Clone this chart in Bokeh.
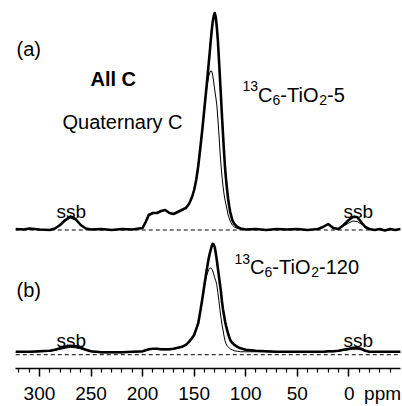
from bokeh.plotting import figure
from bokeh.models import Range1d, FixedTicker, Label
from bokeh.layouts import column
from bokeh.embed import file_html
from bokeh.resources import INLINE

# chemical shift grid (ppm)
ppm = [323, 315, 310, 300, 290, 285, 280, 275, 270, 265,
       260, 255, 250, 240, 230, 220, 210, 200, 197, 194,
       190, 186, 182, 178, 174, 170, 166, 162, 158, 155,
       152, 150, 148, 146, 144, 142, 140, 138, 136, 135,
       134, 133, 132, 131, 130, 129, 128, 127, 126, 125,
       124, 123, 122, 121, 120, 119, 118, 117, 116, 115,
       113, 111, 108, 105, 100, 90, 80, 70, 60, 50,
       40, 30, 25, 20, 15, 10, 5, 0, -4, -8,
       -12, -16, -20, -25, -30, -35, -40, -45, -50]

# (a) 13C6-TiO2-5: all C (thick) and quaternary C (thin)
a_all = [1, 0.5, 1.5, 0.5, 0, 1.5, 5, 10, 13.5, 11,
         5, 1.5, 0.5, 1, 0, 1, 0.5, 2, 8, 15,
         17, 17, 19, 20, 17, 16, 18, 20, 22, 26,
         33, 40, 50, 64, 82, 101, 122, 143, 165, 176,
         188, 199, 208, 214, 217, 213, 203, 190, 172, 153,
         134, 114, 96, 78, 62, 50, 40, 31, 24, 18,
         10, 6, 3, 1.5, 0.5, 1, 0, 1, 0.5, 1,
         0, 1, 3, 6, 2, 1, 5, 10, 13, 13,
         8, 3, 1, 0, 1, -0.5, 1, 0, 1]
a_quat = [1, 0.5, 1.5, 0.5, 0, 1.5, 4.5, 9, 12, 10,
          4.5, 1.5, 0.5, 1, 0, 1, 0.5, 2, 8, 15,
          17, 17, 19, 20, 17, 16, 18, 20, 22, 26,
          33, 40, 50, 64, 82, 101, 122, 140, 153, 157,
          159, 159, 155, 148, 140, 133, 125, 112, 97, 80,
          66, 54, 44, 36, 30, 25, 20, 15, 12, 9,
          5, 3, 1.5, 1, 0.5, 1, 0, 1, 0.5, 1,
          0, 1, 3, 6, 2, 1, 4, 7, 9, 8.5,
          6, 3.5, 1, 0, 1, -0.5, 1, 0, 1]

# (b) 13C6-TiO2-120
b_all = [3, 3, 3, 3.5, 4, 5, 6.5, 8, 9, 8.5,
         7, 5, 3.5, 2.5, 2.5, 2.5, 3, 3.5, 4.5, 5.5,
         6, 6, 5.5, 5.5, 5.5, 6, 7, 8, 10, 13,
         17, 20, 26, 32, 44, 57, 71, 85, 97, 102,
         106, 110, 112.5, 112, 109, 103, 96, 88, 80, 72,
         64, 54, 46, 40, 34, 29, 25, 21, 18, 15,
         12, 10, 8, 6.5, 5, 4, 3.5, 3, 3, 3,
         3, 3, 3, 3.5, 3.5, 4, 5, 6, 7, 7,
         6, 4, 3, 3, 3, 3, 3, 3, 3]
b_quat = [2.5, 2.5, 2.5, 3, 3.5, 4.5, 5.5, 6.5, 7.5, 7,
          6, 4.5, 3, 2, 2, 2, 2.5, 3, 4, 5,
          5.5, 5.5, 5, 5, 5, 5.5, 6.5, 7.5, 9.5, 12.5,
          16.5, 19.5, 25.5, 31.5, 43.5, 56.5, 70, 80, 86, 87.5,
          88, 87.5, 85, 82, 78, 75, 71, 63, 55, 46,
          38, 31, 25, 19, 14, 11, 9, 8, 7, 6,
          5, 4, 3.5, 3, 3, 3, 3, 2.5, 2.5, 2.5,
          2.5, 2.5, 2.5, 3, 3, 3.5, 4.5, 5, 5.5, 5.5,
          5, 4, 2.5, 2.5, 2.5, 2.5, 2.5, 2.5, 2.5]

major_ticks = [300, 250, 200, 150, 100, 50, 0]
minor_ticks = [320, 310, 290, 280, 270, 260, 240, 230, 220, 210, 190, 180, 170,
               160, 140, 130, 120, 110, 90, 80, 70, 60, 40, 30, 20, 10,
               -10, -20, -30, -40]
axis_bounds = (-50, 323)
unit_label = "ppm"

FONT = "Liberation Sans"
W = 402


def base_fig(height, y0, y1, **kw):
    p = figure(width=W, height=height, output_backend="svg", toolbar_location=None,
               x_range=Range1d(337.8, -52.1), y_range=Range1d(y0, y1),
               min_border_left=0, min_border_right=0, min_border_top=0, **kw)
    p.outline_line_color = None
    p.xgrid.visible = False
    p.ygrid.visible = False
    p.background_fill_color = "white"
    p.border_fill_color = "white"
    return p


def draw(p, thick, thin):
    p.line(x=[ppm[0], ppm[-1]], y=[0, 0], line_color="black", line_width=1,
           line_dash="4 3")
    p.line(x=ppm, y=thick, line_color="black", line_width=2.6, line_join="round")
    p.line(x=ppm, y=thin, line_color="black", line_width=1.0, line_join="round")


def lab(p, text, x, y_page, frame_bottom, size, bold=False):
    p.add_layout(Label(x=x, y=frame_bottom - y_page, x_units="screen", y_units="screen",
                       text=text, text_font=FONT, text_font_size=size,
                       text_font_style="bold" if bold else "normal",
                       text_color="black", text_align="left",
                       text_baseline="alphabetic"))


# ---- panel (a)
pa = base_fig(234, -4.5, 229.5, x_axis_location=None, y_axis_location=None,
              min_border_bottom=0)
draw(pa, a_all, a_quat)
FA = 234
lab(pa, "(a)", 16, 48, FA, "20px")
lab(pa, "All C", 90, 78.5, FA, "20px", bold=True)
lab(pa, "Quaternary C", 62, 121, FA, "20px")
lab(pa, "13", 242, 85, FA, "14px")
lab(pa, "C", 257.6, 94, FA, "20px")
lab(pa, "6", 272, 99, FA, "14px")
lab(pa, "-TiO", 279.8, 94, FA, "20px")
lab(pa, "2", 318.7, 99, FA, "14px")
lab(pa, "-5", 326.5, 94, FA, "20px")
lab(pa, "ssb", 56, 211, FA, "19px")
lab(pa, "ssb", 343, 211, FA, "19px")

# ---- panel (b)
pb = base_fig(172, -14, 122, y_axis_location=None, min_border_bottom=36)
draw(pb, b_all, b_quat)
FB = 370
lab(pb, "(b)", 16, 291, FB, "20px")
lab(pb, "13", 234, 260, FB, "14px")
lab(pb, "C", 249.6, 268, FB, "20px")
lab(pb, "6", 264, 273, FB, "14px")
lab(pb, "-TiO", 271.8, 268, FB, "20px")
lab(pb, "2", 310.7, 273, FB, "14px")
lab(pb, "-120", 318.5, 268, FB, "20px")
lab(pb, "ssb", 56, 342, FB, "19px")
lab(pb, "ssb", 343, 342, FB, "19px")

ax = pb.xaxis[0]
ax.ticker = FixedTicker(ticks=major_ticks, minor_ticks=minor_ticks)
ax.bounds = axis_bounds
# the unit sits on the same row as the tick labels, right of "0"
ax.major_label_overrides = {0: "\u2003\u2003\u2002" + "0" + "\u2002" + unit_label}
ax.axis_line_width = 1.6
ax.axis_line_color = "black"
ax.major_tick_in = 0
ax.major_tick_out = 8
ax.major_tick_line_width = 1.5
ax.major_tick_line_color = "black"
ax.minor_tick_in = 0
ax.minor_tick_out = 4
ax.minor_tick_line_width = 1.2
ax.minor_tick_line_color = "black"
ax.major_label_text_font = FONT
ax.major_label_text_font_size = "19px"
ax.major_label_text_color = "black"
ax.major_label_standoff = 6

layout = column(pa, pb, spacing=0)
open("out.html", "w").write(file_html(layout, INLINE))
